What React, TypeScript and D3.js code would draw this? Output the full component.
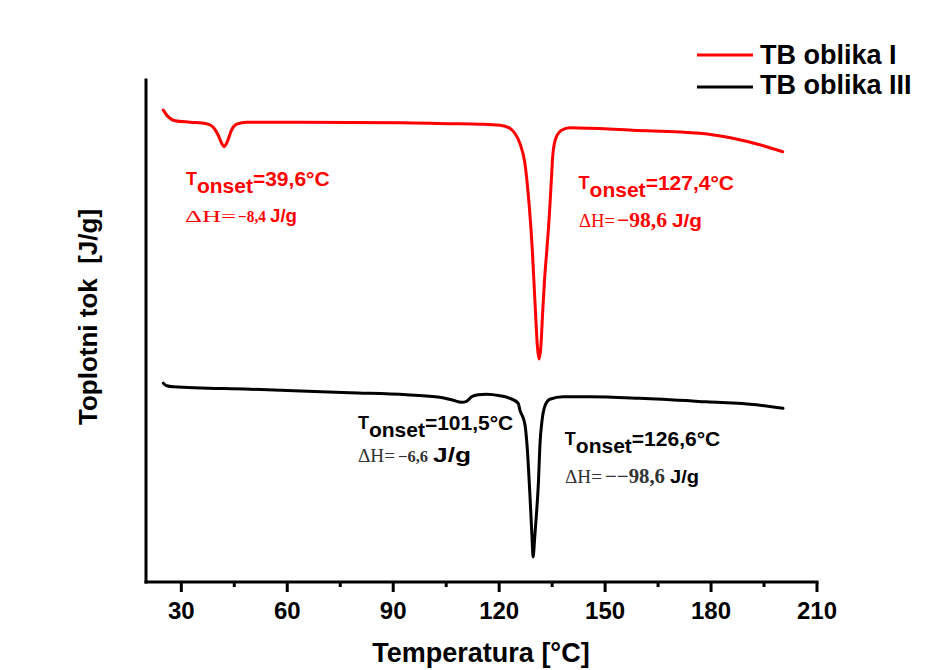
import React from "react";
import * as d3 from "d3";

// ---- Data (temperature °C, heat flow in arbitrary units) ----
const redT = [24.9, 26.23, 28.21, 32.45, 37.18, 39.05, 40.46, 41.43, 42.08, 43.01, 44.26, 45.67, 48.5, 63.59, 91.89, 106.04, 114.54, 120.2, 123.03, 124.44, 125.86, 127.27, 128.12, 128.83, 129.39, 129.82, 130.3, 130.84, 131.32, 131.8, 132.31, 132.85, 133.5, 134.21, 134.78, 135.2, 136.05, 137.66, 140.01, 157.84, 176.8, 186.14, 193.78, 200.29];
const redV = [94.0, 92.7, 91.9, 91.6, 91.3, 90.6, 89.0, 87.4, 86.7, 87.7, 90.1, 91.2, 91.6, 91.6, 91.5, 91.3, 91.2, 91.0, 90.4, 89.4, 87.4, 83.5, 78.1, 72.1, 66.1, 60.2, 53.6, 46.8, 44.4, 46.8, 53.6, 60.2, 66.1, 73.1, 80.1, 85.1, 88.4, 90.0, 90.5, 90.0, 89.4, 88.4, 87.1, 85.7];

const blackT = [24.9, 25.86, 27.73, 49.44, 77.74, 93.79, 103.21, 106.98, 109.36, 110.77, 112.19, 114.06, 116.43, 120.2, 123.03, 125.38, 125.86, 127.27, 127.92, 128.49, 128.97, 129.34, 129.62, 130.02, 130.58, 131.15, 131.52, 132.17, 132.93, 134.35, 138.11, 145.67, 159.83, 178.7, 192.85, 200.38];
const blackV = [39.6, 39.1, 38.9, 38.4, 37.7, 37.3, 36.8, 36.2, 35.8, 36.0, 36.9, 37.3, 37.4, 37.1, 36.6, 35.6, 34.3, 31.5, 27.0, 20.3, 13.7, 8.4, 5.0, 8.4, 13.7, 20.3, 27.0, 32.3, 35.0, 36.4, 36.9, 36.9, 36.6, 35.9, 35.3, 34.6];

const seriesNames = ["TB oblika I", "TB oblika III"];
const seriesColors = ["#ff0000", "#000000"];

const majorTicks = [30, 60, 90, 120, 150, 180, 210];
const minorTicks = [45, 75, 105, 135, 165, 195];

const onsetLabels = ["=39,6°C", "=127,4°C", "=101,5°C", "=126,6°C"];
const dhValues = ["\u22128,4", "\u221298,6", "\u22126,6", "\u2212\u221298,6"];

const xLabel = "Temperatura [°C]";
const yLabel = "Toplotni tok\u00A0\u00A0[J/g]";

export default function App() {
  const W = 934;
  const H = 670;
  const x = d3.scaleLinear().domain([20, 210]).range([146, 817]);
  const y = d3.scaleLinear().domain([0, 100]).range([582, 80]);

  const line = d3
    .line<[number, number]>()
    .x((d) => x(d[0]))
    .y((d) => y(d[1]))
    .curve(d3.curveMonotoneX);

  const redData: [number, number][] = redT.map((t, i) => [t, redV[i]]);
  const blackData: [number, number][] = blackT.map((t, i) => [t, blackV[i]]);

  const sans = "Arial, 'Liberation Sans', Helvetica, sans-serif";
  const serif = "'Times New Roman', 'Liberation Serif', serif";

  const annos = [
    { tx: 31.3, tb: 185, dhb: 221.7, color: "#ff0000", dhColor: "#ff0000", dh: [[185, 51, 17], [238, 28, 16], [270, 27, 18]] },
    { tx: 142.5, tb: 189, dhb: 226.7, color: "#ff0000", dhColor: "#ff0000", dh: [[579, 36, 18], [617, 50, 21], [672, 30, 19]] },
    { tx: 80.0, tb: 429, dhb: 461.7, color: "#000000", dhColor: "#333333", dh: [[358, 37, 18], [398, 30, 16.5], [433, 38, 21]] },
    { tx: 138.6, tb: 445, dhb: 482.7, color: "#000000", dhColor: "#333333", dh: [[565, 37, 18], [605, 60, 20], [670, 29, 19]] },
  ];

  return (
    <svg
      width={W}
      height={H}
      style={{ position: "absolute", left: 0, top: 0, display: "block", background: "#fff" }}
    >
      <rect x={0} y={0} width={W} height={H} fill="#fff" />

      {/* axes */}
      <line x1={x(20)} x2={x(210)} y1={y(0)} y2={y(0)} stroke="#000" strokeWidth={3} strokeLinecap="square" />
      <line x1={x(20)} x2={x(20)} y1={y(0)} y2={y(100)} stroke="#000" strokeWidth={3} strokeLinecap="square" />
      {majorTicks.map((t) => (
        <g key={"M" + t}>
          <line x1={x(t)} x2={x(t)} y1={y(0)} y2={y(0) + 10} stroke="#000" strokeWidth={3} />
          <text x={x(t)} y={619} textAnchor="middle" fontFamily={sans} fontWeight="bold" fontSize={24} fill="#000">
            {t}
          </text>
        </g>
      ))}
      {minorTicks.map((t) => (
        <line key={"m" + t} x1={x(t)} x2={x(t)} y1={y(0)} y2={y(0) + 5} stroke="#000" strokeWidth={3} />
      ))}
      <text x={481} y={662} textAnchor="middle" fontFamily={sans} fontWeight="bold" fontSize={27} fill="#000">
        {xLabel}
      </text>
      <text
        transform={`translate(97,317) rotate(-90)`}
        textAnchor="middle"
        fontFamily={sans}
        fontWeight="bold"
        fontSize={26}
        fill="#000"
      >
        {yLabel}
      </text>

      {/* curves */}
      <path d={line(redData) || ""} fill="none" stroke={seriesColors[0]} strokeWidth={3} strokeLinejoin="round" strokeLinecap="round" />
      <path d={line(blackData) || ""} fill="none" stroke={seriesColors[1]} strokeWidth={3} strokeLinejoin="round" strokeLinecap="round" />

      {/* annotations */}
      {annos.map((a, i) => {
        const x0 = x(a.tx);
        return (
          <g key={"a" + i}>
            <text x={x0} y={a.tb} fontFamily={sans} fontWeight="bold" fill={a.color}>
              <tspan fontSize={18}>T</tspan>
              <tspan fontSize={21} dy={8}>onset</tspan>
              <tspan fontSize={21} dy={-7}>{onsetLabels[i]}</tspan>
            </text>
            <text x={a.dh[0][0]} y={a.dhb} fontFamily={serif} fontSize={a.dh[0][2]} fill={a.dhColor} textLength={a.dh[0][1]} lengthAdjust="spacingAndGlyphs">
              {"\u0394H="}
            </text>
            <text x={a.dh[1][0]} y={a.dhb} fontFamily={serif} fontWeight="bold" fontSize={a.dh[1][2]} fill={a.dhColor} textLength={a.dh[1][1]} lengthAdjust="spacingAndGlyphs">
              {dhValues[i]}
            </text>
            <text x={a.dh[2][0]} y={a.dhb} fontFamily={sans} fontWeight="bold" fontSize={a.dh[2][2]} fill={a.color} textLength={a.dh[2][1]} lengthAdjust="spacingAndGlyphs">
              J/g
            </text>
          </g>
        );
      })}

      {/* legend */}
      {seriesNames.map((n, i) => (
        <g key={n}>
          <line x1={697} x2={753} y1={55 + i * 32} y2={55 + i * 32} stroke={seriesColors[i]} strokeWidth={3} />
          <text x={760} y={64 + i * 30} fontFamily={sans} fontWeight="bold" fontSize={27} fill="#000">
            {n}
          </text>
        </g>
      ))}
    </svg>
  );
}
